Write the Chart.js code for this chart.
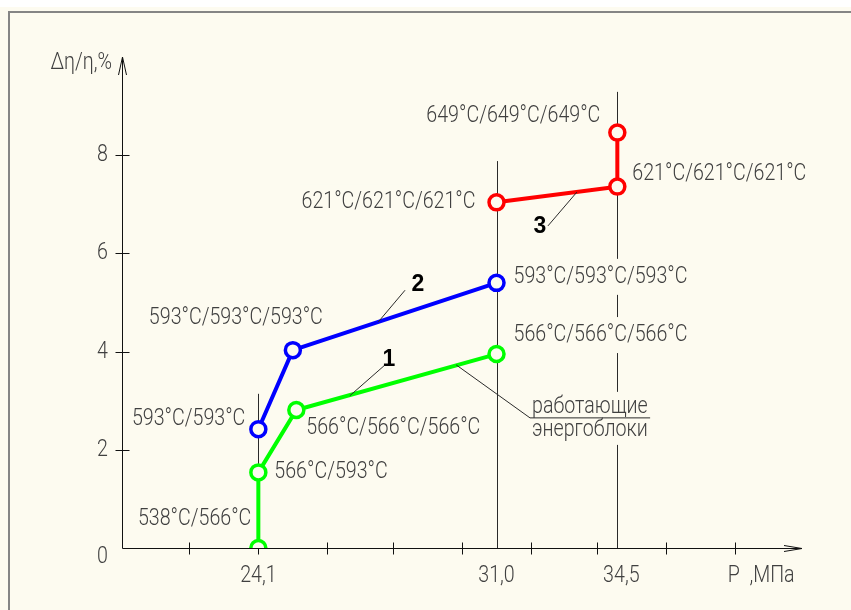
<!DOCTYPE html>
<html>
<head>
<meta charset="utf-8">
<script src="https://cdn.jsdelivr.net/npm/chart.js@4"></script>
<style>
  body { margin: 0; background: #ffffff; }
  #chartBox { width: 851px; height: 610px; }
</style>
</head>
<body>
<div id="chartBox"><canvas id="effChart" width="851" height="610"></canvas></div>
<script>

// data

const pressure1 = [24.1, 24.1, 25.2, 31.0];
const efficiency1 = [0, 1.54, 2.81, 3.95];
const steam1 = ['538°C/566°C', '566°C/593°C', '566°C/566°C/566°C', '566°C/566°C/566°C'];

const pressure2 = [24.1, 25.1, 31.0];
const efficiency2 = [2.42, 4.03, 5.40];
const steam2 = ['593°C/593°C', '593°C/593°C/593°C', '593°C/593°C/593°C'];

const pressure3 = [31.0, 34.5, 34.5];
const efficiency3 = [7.04, 7.36, 8.46];
const steam3 = ['621°C/621°C/621°C', '621°C/621°C/621°C', '649°C/649°C/649°C'];

const xTickMarks = [22.1, 24.1, 26.1, 28.0, 30.0, 32.0, 33.9, 35.9, 37.9];
const xTickLabelValues = [24.1, 31.0, 34.5];
const xTickLabels = ['24,1', '31,0', '34,5'];
const yTickValues = [0, 2, 4, 6, 8];
const yTickLabels = ['0', '2', '4', '6', '8'];

// vertical lines of the working units
const unitLineP = [24.1, 31.0, 34.5];
const unitLineTop = [3.14, 7.88, 9.29];

const BG = '#fdfbf0';
const INK = '#404040';
const FONT = '300 24px Roboto, "Liberation Sans", sans-serif';
const BOLD = 'bold 23px "Liberation Sans", sans-serif';
let squeeze = 0.85;

// where each point label sits: [dx, dy, align]
const labelPlace = [
  [[-7, -29, 'right'], [16, 0, 'left'], [10, 18, 'left'], [17, -19, 'left']],
  [[-13, -10, 'right'], [30, -32, 'right'], [17, -6, 'left']],
  [[-21, 0, 'right'], [15, -13, 'left'], [-17, -17, 'right']]
];
const steamLabels = [steam1, steam2, steam3];

function toPoints(xs, ys) {
  return xs.map((x, i) => ({ x: x, y: ys[i] }));
}

function line(ctx, x1, y1, x2, y2) {
  ctx.beginPath();
  ctx.moveTo(x1, y1);
  ctx.lineTo(x2, y2);
  ctx.stroke();
}

// narrow drafting-style text
function narrowText(ctx, text, x, y, align) {
  const w = ctx.measureText(text).width * squeeze;
  let left = x;
  if (align === 'right') left = x - w;
  if (align === 'center') left = x - w / 2;
  ctx.save();
  ctx.translate(left, y);
  ctx.scale(squeeze, 1);
  ctx.textAlign = 'left';
  ctx.fillText(text, 0, 0);
  ctx.restore();
  return w;
}

const drawingPlugin = {
  id: 'drawing',

  beforeDraw(chart) {
    const ctx = chart.ctx;
    ctx.save();
    ctx.fillStyle = '#ffffff';
    ctx.fillRect(0, 0, chart.width, chart.height);
    ctx.fillStyle = BG;
    ctx.fillRect(0, 7, chart.width, chart.height);
    ctx.fillStyle = '#858585';
    ctx.fillRect(8, 11, chart.width, 2);
    ctx.fillRect(8, 11, 2, chart.height);
    ctx.font = FONT;
    squeeze = 174 / ctx.measureText('593°C/593°C/593°C').width;
    ctx.restore();
  },

  beforeDatasetsDraw(chart) {
    const ctx = chart.ctx;
    const xs = chart.scales.x;
    const ys = chart.scales.y;
    const area = chart.chartArea;
    ctx.save();

    // unit lines
    ctx.strokeStyle = '#2a2a2a';
    ctx.lineWidth = 1;
    unitLineP.forEach((p, i) => {
      const px = Math.round(xs.getPixelForValue(p)) + 0.5;
      line(ctx, px, ys.getPixelForValue(unitLineTop[i]), px, ys.getPixelForValue(0));
    });

    // masks behind the labels
    ctx.font = FONT;
    ctx.fillStyle = BG;
    chart.data.datasets.forEach((ds, d) => {
      ds.data.forEach((pt, i) => {
        const [dx, dy, align] = labelPlace[d][i];
        const w = ctx.measureText(steamLabels[d][i]).width * squeeze;
        const px = xs.getPixelForValue(pt.x) + dx;
        const py = ys.getPixelForValue(pt.y) + dy;
        const left = align === 'right' ? px - w : px;
        ctx.fillRect(left - 2, py - 18, w + 4, 36);
      });
    });
    ctx.fillRect(xs.getPixelForValue(31.97), ys.getPixelForValue(3.18),
      122, ys.getPixelForValue(2.1) - ys.getPixelForValue(3.18));

    // axes with open arrows
    ctx.strokeStyle = '#111111';
    ctx.lineWidth = 1;
    const ox = Math.round(area.left) + 0.5;
    const oy = Math.round(area.bottom) + 0.5;
    line(ctx, ox, oy, ox, area.top);
    line(ctx, ox, oy, area.right, oy);
    line(ctx, ox, area.top, ox - 4, area.top + 18);
    line(ctx, ox, area.top, ox + 4, area.top + 18);
    line(ctx, area.right, oy, area.right - 18, oy - 3);
    line(ctx, area.right, oy, area.right - 18, oy + 3);

    // ticks crossing the axes
    xTickMarks.forEach(v => {
      const px = Math.round(xs.getPixelForValue(v)) + 0.5;
      line(ctx, px, oy - 6, px, oy + 6);
    });
    yTickValues.slice(1).forEach(v => {
      const py = Math.round(ys.getPixelForValue(v)) + 0.5;
      line(ctx, ox - 7, py, ox + 7, py);
    });
    ctx.restore();
  },

  afterDatasetsDraw(chart) {
    const ctx = chart.ctx;
    const xs = chart.scales.x;
    const ys = chart.scales.y;
    const X = v => xs.getPixelForValue(v);
    const Y = v => ys.getPixelForValue(v);
    ctx.save();

    // leader lines
    ctx.strokeStyle = '#2a2a2a';
    ctx.lineWidth = 1;
    line(ctx, X(28.35), Y(5.25), X(27.57), Y(4.60));
    line(ctx, X(27.74), Y(3.71), X(26.75), Y(3.10));
    line(ctx, X(32.49), Y(6.56), X(33.33), Y(7.25));
    line(ctx, X(29.83), Y(3.73), X(31.97), Y(2.65));
    line(ctx, X(31.97), Y(2.65), X(35.45), Y(2.65));

    // point labels
    ctx.font = FONT;
    ctx.fillStyle = INK;
    ctx.textBaseline = 'middle';
    chart.data.datasets.forEach((ds, d) => {
      ds.data.forEach((pt, i) => {
        const [dx, dy, align] = labelPlace[d][i];
        narrowText(ctx, steamLabels[d][i], X(pt.x) + dx, Y(pt.y) + dy, align);
      });
    });

    // working units note
    narrowText(ctx, 'работающие', X(32.03), Y(2.87), 'left');
    narrowText(ctx, 'энергоблоки', X(32.03), Y(2.40), 'left');

    // tick labels
    xTickLabelValues.forEach((v, i) => {
      narrowText(ctx, xTickLabels[i], X(v) + (i === 2 ? 4 : 0), Y(0) + 28, 'center');
    });
    yTickValues.forEach((v, i) => {
      narrowText(ctx, yTickLabels[i], X(20.15) - 14, Y(v) + (v === 0 ? 9 : 0), 'right');
    });

    // axis titles
    narrowText(ctx, '∆η/η,%', X(20.15) - 10, Y(9.87), 'right');
    narrowText(ctx, 'P  ,МПа', X(37.7), Y(0) + 28, 'left');

    // series numbers
    ctx.font = BOLD;
    ctx.fillStyle = '#000000';
    ctx.textAlign = 'center';
    ctx.fillText('1', X(27.88), Y(3.83));
    ctx.fillText('2', X(28.72), Y(5.36));
    ctx.fillText('3', X(32.26), Y(6.54));
    ctx.restore();
  }
};

function series(xs, ys, color) {
  return {
    data: toPoints(xs, ys),
    borderColor: color,
    borderWidth: 4,
    pointRadius: 7.5,
    pointBorderWidth: 3.5,
    pointBorderColor: color,
    pointBackgroundColor: BG,
    tension: 0
  };
}

new Chart(document.getElementById('effChart'), {
  type: 'line',
  data: {
    datasets: [
      series(pressure1, efficiency1, '#00ff00'),
      series(pressure2, efficiency2, '#0000ff'),
      series(pressure3, efficiency3, '#ff0000')
    ]
  },
  options: {
    responsive: false,
    animation: false,
    layout: {
      padding: { left: 122, right: 49, top: 57, bottom: 62 }
    },
    plugins: {
      legend: { display: false },
      tooltip: { enabled: false }
    },
    scales: {
      x: { type: 'linear', min: 20.15, max: 39.85, display: false },
      y: { type: 'linear', min: 0, max: 10, display: false }
    }
  },
  plugins: [drawingPlugin]
});
</script>
</body>
</html>
